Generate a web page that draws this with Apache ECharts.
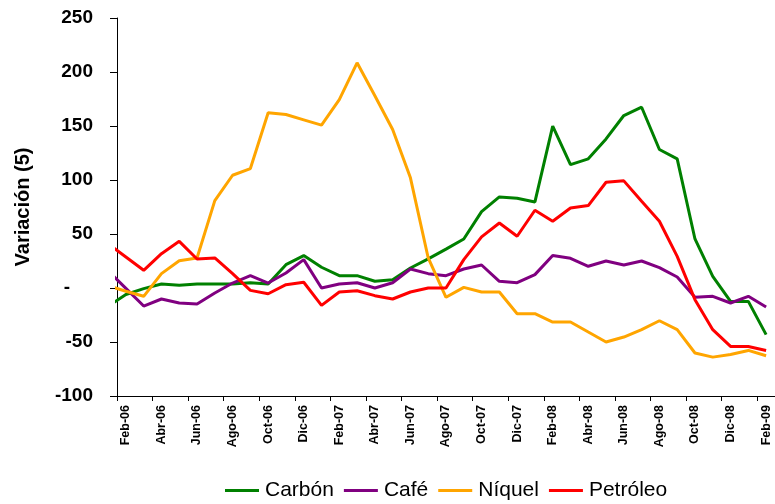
<!DOCTYPE html>
<html>
<head>
<meta charset="utf-8">
<script src="https://cdn.jsdelivr.net/npm/echarts@6/dist/echarts.min.js"></script>
<style>
html,body{margin:0;padding:0;background:#fff;}
#c{width:775px;height:504px;}
</style>
</head>
<body>
<div id="c"></div>
<script>
// Months (first one, Ene-06, lies left of the visible plot and is clipped)
const months = ['Ene-06','Feb-06','Mar-06','Abr-06','May-06','Jun-06','Jul-06','Ago-06','Sep-06','Oct-06','Nov-06','Dic-06',
  'Ene-07','Feb-07','Mar-07','Abr-07','May-07','Jun-07','Jul-07','Ago-07','Sep-07','Oct-07','Nov-07','Dic-07',
  'Ene-08','Feb-08','Mar-08','Abr-08','May-08','Jun-08','Jul-08','Ago-08','Sep-08','Oct-08','Nov-08','Dic-08',
  'Ene-09','Feb-09'];
const carbon = [-17, -6, -0.6, 3.7, 2.5, 3.7, 3.7, 3.7, 4.9, 3.7, 21.6, 30, 19.2, 11.4, 11.4, 6.2, 7.7, 18.5, 27, 36,
  45.4, 70.7, 84.3, 83.1, 79.7, 149.8, 114.3, 119.6, 138, 159.7, 167.4, 128.2, 119.6, 45.4, 10.8, -12.4, -12.4, -43.2];
const cafe = [16, -0.3, -16.7, -10.2, -13.9, -14.8, -4.6, 4.6, 11.4, 4.6, 13.9, 26.3, 0, 3.7, 4.9, 0, 4.9, 17.6, 13.3, 11.4,
  17.6, 21.3, 6.2, 4.9, 12.4, 30, 27.5, 20.1, 25, 21.3, 25, 18.8, 10.2, -8.6, -7.7, -13.9, -7.7, -17.6];
const niquel = [2, -3, -7.7, 13.3, 25.3, 27.8, 80.9, 104.4, 110.6, 162.2, 160.6, 155.7, 150.8, 174.5, 208.5, 178, 146.7, 102, 27.8, -8.6,
  0.6, -3.7, -3.7, -23.8, -23.8, -31.5, -31.5, -40.8, -50, -45.4, -38.6, -30.3, -38.6, -60.2, -64, -61.5, -57.8, -62.7];
const petroleo = [41, 28.7, 16.4, 31.8, 43.2, 26.9, 27.8, 13.3, -2.2, -5.3, 3.1, 5.3, -16.1, -3.7, -2.5, -7.1, -10.2, -3.7, 0, 0,
  26.3, 47.3, 60.2, 47.9, 72, 61.8, 74.1, 76.3, 97.9, 99.2, 80.3, 61.8, 29.3, -10.8, -38.6, -54.1, -54.1, -57.8];
const seriesNames = ['Carbón', 'Café', 'Níquel', 'Petróleo'];
const seriesColors = ['#008000', '#800080', '#FFA500', '#FF0000'];
const seriesValues = [carbon, cafe, niquel, petroleo];
const yTitle = 'Variación (5)';

const FONT = '"Liberation Sans", Arial, sans-serif';
const visibleMonths = months.slice(1);

const chart = echarts.init(document.getElementById('c'), null, {renderer: 'canvas'});
chart.setOption({
  animation: false,
  backgroundColor: '#ffffff',
  grid: {left: 117, right: -4, top: 18, bottom: 108, containLabel: false},
  legend: {
    left: 225, top: 480, padding: 0,
    icon: 'rect', itemWidth: 34, itemHeight: 3, itemGap: 10,
    textStyle: {fontFamily: FONT, fontSize: 21, color: '#000', padding: [0, 0, 0, 1]},
    data: seriesNames
  },
  xAxis: [
    {type: 'value', min: 0.5, max: 37.5, show: false},
    {type: 'category', data: visibleMonths, boundaryGap: true, position: 'bottom',
      axisLine: {show: false, onZero: false}, axisTick: {show: false},
      axisLabel: {interval: 1, rotate: 90, margin: 9, fontFamily: FONT, fontWeight: 'bold', fontSize: 12.5, color: '#000'},
      splitLine: {show: false}},
    {type: 'category', data: visibleMonths, boundaryGap: true, position: 'bottom',
      axisLine: {show: true, onZero: true, lineStyle: {color: '#000', width: 1}},
      axisTick: {show: true, interval: 1, length: 5, inside: false, lineStyle: {color: '#000'}},
      axisLabel: {show: false}, splitLine: {show: false}}
  ],
  yAxis: {
    type: 'value', min: -100, max: 250, interval: 50,
    name: yTitle, nameLocation: 'middle', nameGap: 84,
    nameTextStyle: {fontFamily: FONT, fontWeight: 'bold', fontSize: 20, color: '#000'},
    axisLine: {show: true, lineStyle: {color: '#000', width: 1}},
    axisTick: {show: true, length: 7, inside: false, lineStyle: {color: '#000'}},
    splitLine: {show: false},
    axisLabel: {
      margin: 24, fontFamily: FONT, fontWeight: 'bold', fontSize: 19, color: '#000',
      formatter: v => v === 0 ? '{z|-}' : String(v),
      rich: {z: {fontFamily: FONT, fontWeight: 'bold', fontSize: 19, color: '#000', padding: [0, 23, 0, 0]}}
    }
  },
  series: seriesNames.map((n, s) => ({
    name: n, type: 'line', xAxisIndex: 0, yAxisIndex: 0,
    symbol: 'none', clip: true,
    lineStyle: {color: seriesColors[s], width: 3},
    itemStyle: {color: seriesColors[s]},
    data: seriesValues[s].map((v, k) => [k, v])
  }))
});
</script>
</body>
</html>
